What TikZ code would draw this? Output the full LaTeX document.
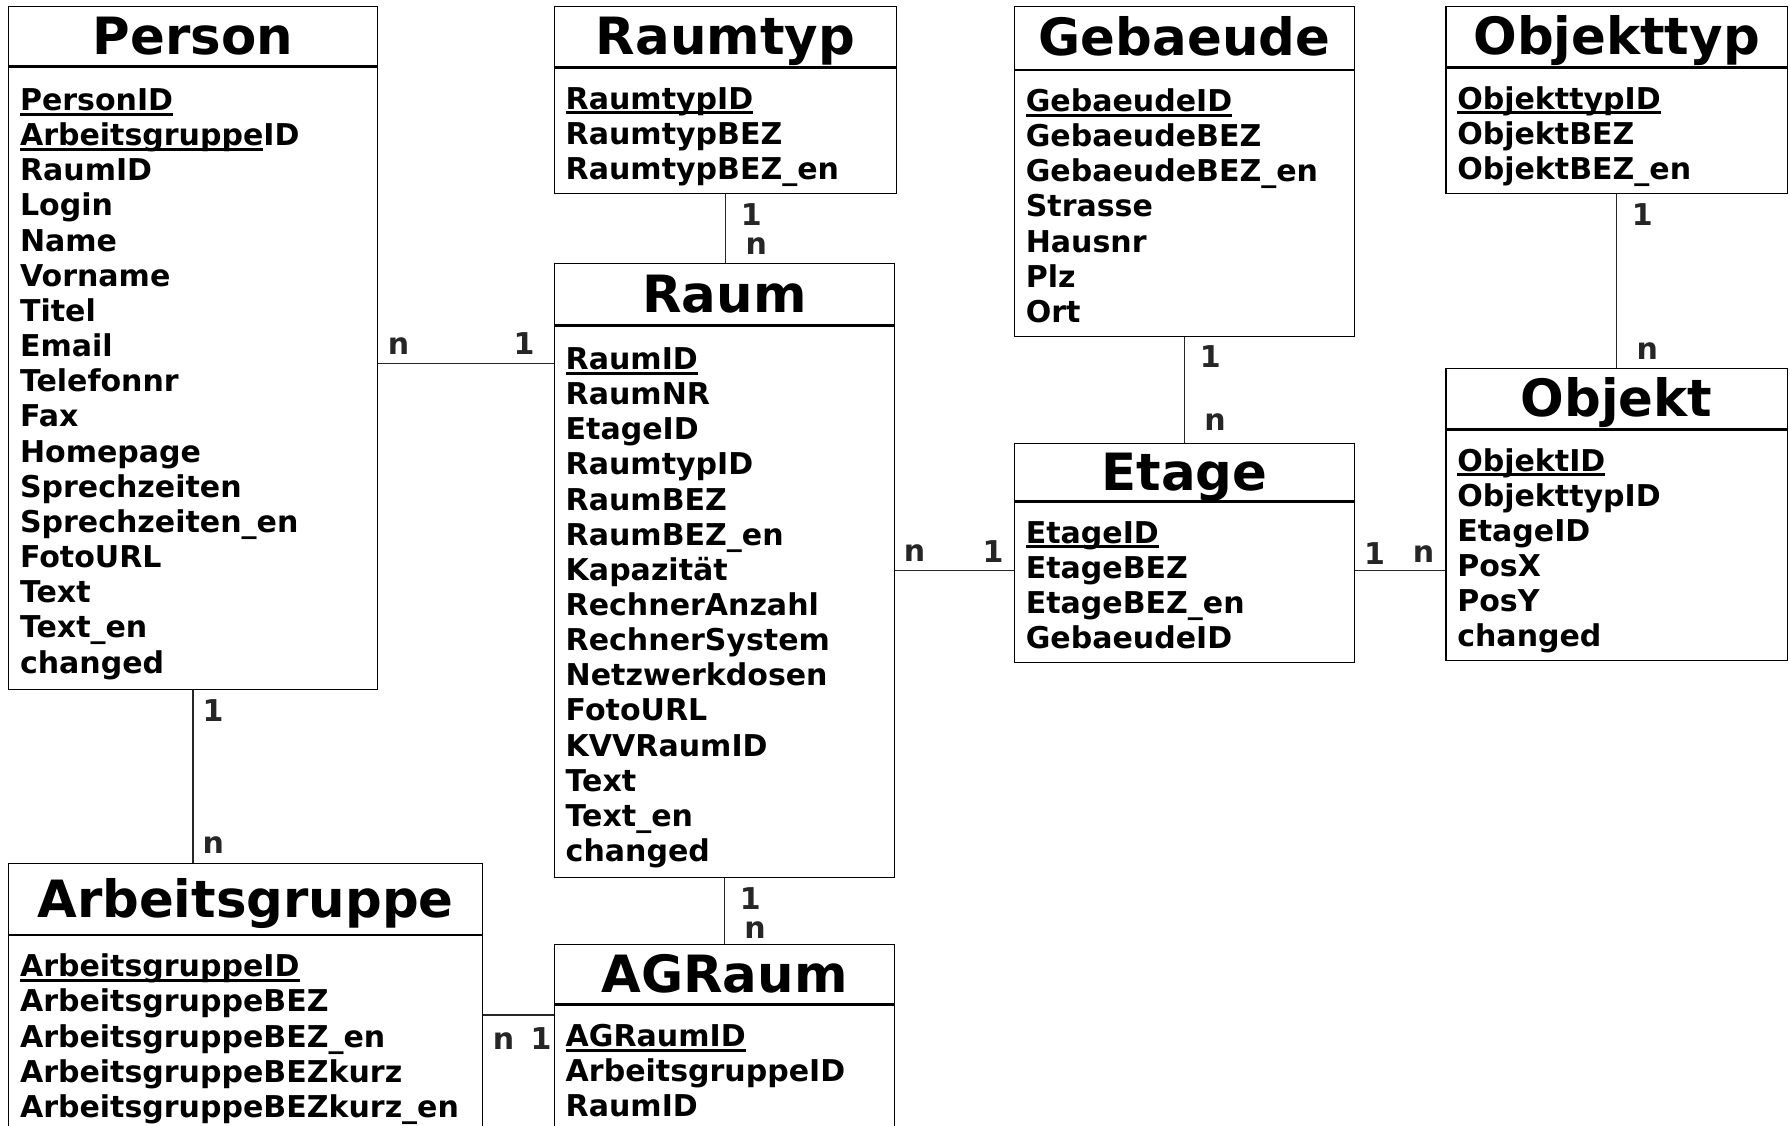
\documentclass[tikz,border=0pt]{standalone}
\usepackage{fontspec}
\setmainfont{DejaVu Sans}
\usepackage{tikz}
\usetikzlibrary{positioning}
\newcommand{\titlefont}{\fontsize{45}{50}\selectfont\bfseries}
\newcommand{\attrfont}{\fontsize{26.3}{30.8}\selectfont\bfseries}
\newcommand{\pk}[1]{\leavevmode\setbox0=\hbox{#1}\rlap{\rule[-4.5pt]{\wd0}{2.6pt}}\box0}
\tikzstyle{head} = [ rectangle, draw = black, line width = 1.1pt, %
                     inner sep = 0pt, text height = 32pt, text depth = 0pt, %
                     anchor = north west, font = \titlefont ]
\tikzstyle{attrs} = [ rectangle, draw = black, line width = 1.1pt, %
                      inner xsep = 10pt, inner ysep = 0pt, align = left, %
                      font = \attrfont, %
                      execute at begin node = {\rule{0pt}{36pt}}, %
                      execute at end node = {\rule[-12pt]{0pt}{12pt}} ]
\tikzstyle{link} = [line width = 1pt, black!85]
\tikzstyle{card} = [font = \attrfont, inner sep = 0pt, anchor = base]

\begin{document}
\begin{tikzpicture}[x = 1pt, y = -1pt]
      \useasboundingbox (0,0) rectangle (1568,986);
      \clip (0,0) rectangle (1568,986);
      % Tables
      \node (person) [head, minimum width = 323pt, minimum height = 52pt] at (7,5) {Person};
      \node (personattr) [attrs, below = 0pt of person, text width = 303pt, %
        minimum height = 545pt] {\pk{PersonID}\\\pk{Arbeitsgruppe}ID\\RaumID\\Login\\%
        Name\\Vorname\\Titel\\Email\\Telefonnr\\Fax\\Homepage\\Sprechzeiten\\%
        Sprechzeiten\_en\\FotoURL\\Text\\Text\_en\\changed};
      \node (raumtyp) [head, minimum width = 300pt, minimum height = 53pt] at (485,5) {Raumtyp};
      \node (raumtypattr) [attrs, below = 0pt of raumtyp, text width = 280pt, %
        minimum height = 108pt] {\pk{RaumtypID}\\RaumtypBEZ\\RaumtypBEZ\_en};
      \node (gebaeude) [head, minimum width = 298pt, minimum height = 55pt] at (888,5) {Gebaeude};
      \node (gebaeudeattr) [attrs, below = 0pt of gebaeude, text width = 278pt, %
        minimum height = 230pt] {\pk{GebaeudeID}\\GebaeudeBEZ\\GebaeudeBEZ\_en\\%
        Strasse\\Hausnr\\Plz\\Ort};
      \node (objekttyp) [head, minimum width = 299pt, minimum height = 53pt] at (1266,5) {Objekttyp};
      \node (objekttypattr) [attrs, below = 0pt of objekttyp, text width = 279pt, %
        minimum height = 108pt] {\pk{ObjekttypID}\\ObjektBEZ\\ObjektBEZ\_en};
      \node (raum) [head, minimum width = 298pt, minimum height = 54pt] at (485,230) {Raum};
      \node (raumattr) [attrs, below = 0pt of raum, text width = 278pt, %
        minimum height = 483pt] {\pk{RaumID}\\RaumNR\\EtageID\\RaumtypID\\RaumBEZ\\%
        RaumBEZ\_en\\Kapazität\\RechnerAnzahl\\RechnerSystem\\Netzwerkdosen\\%
        FotoURL\\KVVRaumID\\Text\\Text\_en\\changed};
      \node (etage) [head, minimum width = 298pt, minimum height = 50pt] at (888,388) {Etage};
      \node (etageattr) [attrs, below = 0pt of etage, text width = 278pt, %
        minimum height = 139pt] {\pk{EtageID}\\EtageBEZ\\EtageBEZ\_en\\GebaeudeID};
      \node (objekt) [head, minimum width = 299pt, minimum height = 53pt] at (1266,322) {Objekt};
      \node (objektattr) [attrs, below = 0pt of objekt, text width = 279pt, %
        minimum height = 202pt] {\pk{ObjektID}\\ObjekttypID\\EtageID\\PosX\\PosY\\changed};
      \node (arbeitsgruppe) [head, minimum width = 415pt, minimum height = 62pt] at (7,756) {Arbeitsgruppe};
      \node (arbeitsgruppeattr) [attrs, below = 0pt of arbeitsgruppe, text width = 395pt] %
        {\pk{ArbeitsgruppeID}\\ArbeitsgruppeBEZ\\ArbeitsgruppeBEZ\_en\\%
        ArbeitsgruppeBEZkurz\\ArbeitsgruppeBEZkurz\_en};
      \node (agraum) [head, minimum width = 298pt, minimum height = 52pt] at (485,827) {AGRaum};
      \node (agraumattr) [attrs, below = 0pt of agraum, text width = 278pt] %
        {\pk{AGRaumID}\\ArbeitsgruppeID\\RaumID};
      % Relations
      \draw [link] ([yshift=12.5pt]personattr.east) -- ([yshift=12.5pt]personattr.east -| raumattr.west)
        node [card, at start, xshift=18pt, yshift=8pt] {n}
        node [card, at end, xshift=-26pt, yshift=8pt] {1};
      \draw [link] (raumtypattr.south) -- (raumtypattr.south |- raum.north)
        node [card, at start, anchor=base west, xshift=13pt, yshift=-28pt] {1}
        node [card, at end, anchor=base west, xshift=17pt, yshift=7pt] {n};
      \draw [link] (personattr.south) -- (personattr.south |- arbeitsgruppe.north)
        node [card, at start, anchor=base west, xshift=8pt, yshift=-27.5pt] {1}
        node [card, at end, anchor=base west, xshift=8pt, yshift=8pt] {n};
      \draw [link] (raumattr.south) -- (raumattr.south |- agraum.north)
        node [card, at start, anchor=base west, xshift=13pt, yshift=-27.5pt] {1}
        node [card, at end, anchor=base west, xshift=17pt, yshift=5pt] {n};
      \draw [link] ([yshift=-70pt]arbeitsgruppeattr.north east) -- %
        ([yshift=-70pt]arbeitsgruppeattr.north east -| agraumattr.west)
        node [card, at start, xshift=18pt, yshift=-30pt] {n}
        node [card, at end, xshift=-11pt, yshift=-30pt] {1};
      \draw [link] ([yshift=27.5pt]raumattr.east) -- ([yshift=27.5pt]raumattr.east -| etageattr.west)
        node [card, at start, xshift=17pt, yshift=8pt] {n}
        node [card, at end, xshift=-18pt, yshift=7pt] {1};
      \draw [link] (gebaeudeattr.south) -- (gebaeudeattr.south |- etage.north)
        node [card, at start, anchor=base west, xshift=13pt, yshift=-27pt] {1}
        node [card, at end, anchor=base west, xshift=17pt, yshift=11pt] {n};
      \draw [link] ([yshift=10pt]etageattr.east) -- ([yshift=10pt]etageattr.east -| objektattr.west)
        node [card, at start, xshift=17pt, yshift=5pt] {1}
        node [card, at end, xshift=-19pt, yshift=7pt] {n};
      \draw [link] (objekttypattr.south) -- (objekttypattr.south |- objekt.north)
        node [card, at start, anchor=base west, xshift=13pt, yshift=-28pt] {1}
        node [card, at end, anchor=base west, xshift=17pt, yshift=7pt] {n};
\end{tikzpicture}
\end{document}
